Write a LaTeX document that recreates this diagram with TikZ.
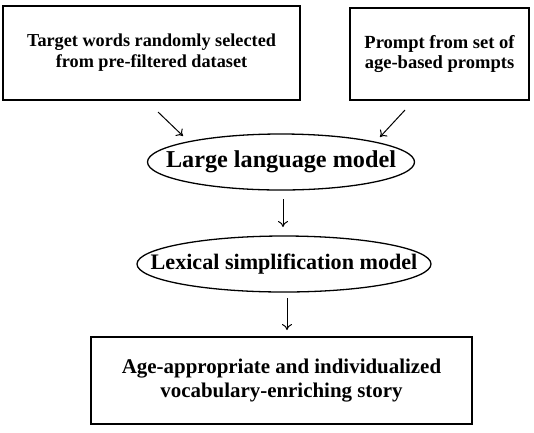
\documentclass[tikz,border=0pt]{standalone}
\usepackage{fontspec}
\setmainfont{Liberation Serif}
\usetikzlibrary{shapes.geometric,arrows.meta}
\begin{document}
\begin{tikzpicture}[x=1bp,y=-1bp,
  boxstyle/.style={draw,line width=1.3pt,align=center,inner sep=0pt},
  ellstyle/.style={draw,ellipse,line width=1.3pt,inner sep=0pt},
  arr/.style={-{To[length=6pt,width=10pt]},line width=1pt}]
\useasboundingbox (0,0) rectangle (534,432);
\node[boxstyle,minimum width=297bp,minimum height=94bp,font=\bfseries\fontsize{18.3}{21}\selectfont] (tw) at (151.5,53) {Target words randomly selected\\from pre-filtered dataset};
\node[boxstyle,minimum width=179bp,minimum height=92bp,font=\bfseries\fontsize{18.6}{21}\selectfont] (pr) at (439.5,54) {Prompt from set of\\age-based prompts};
\node[ellstyle,minimum width=267bp,minimum height=56bp,font=\bfseries\fontsize{24.3}{28}\selectfont] (llm) at (281,162) {\makebox[0pt]{Large language model}};
\node[ellstyle,minimum width=294bp,minimum height=56bp,font=\bfseries\fontsize{22.2}{26}\selectfont] (lsm) at (284,264) {\makebox[0pt]{Lexical simplification model}};
\node[boxstyle,minimum width=381bp,minimum height=87bp,font=\bfseries\fontsize{21}{24}\selectfont] (st) at (281.5,380.5) {Age-appropriate and individualized\\vocabulary-enriching story};
\coordinate (a1s) at (158,112); \coordinate (a1e) at (183,136);
\coordinate (a2s) at (405,110); \coordinate (a2e) at (380,137);
\coordinate (a3s) at (283,199); \coordinate (a3e) at (283,227);
\coordinate (a4s) at (287,298); \coordinate (a4e) at (287,330);
\draw[arr] (a1s) -- (a1e);
\draw[arr] (a2s) -- (a2e);
\draw[arr] (a3s) -- (a3e);
\draw[arr] (a4s) -- (a4e);
\end{tikzpicture}
\end{document}
